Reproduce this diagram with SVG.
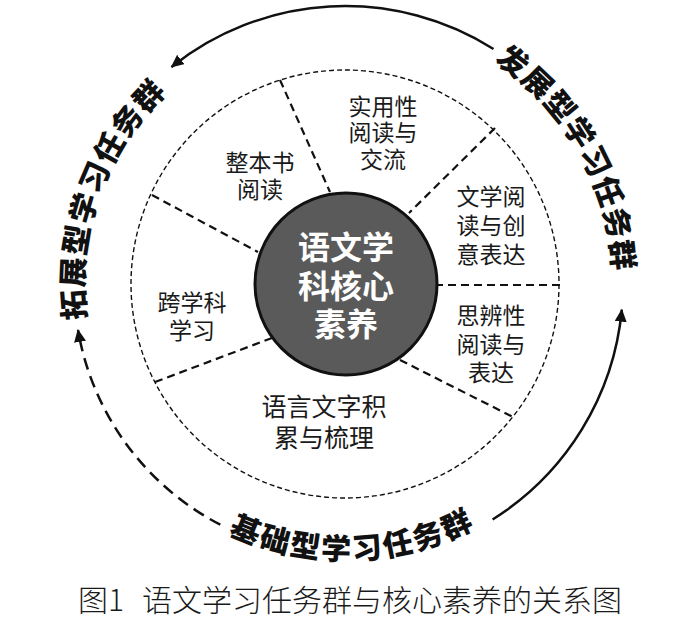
<svg xmlns="http://www.w3.org/2000/svg" width="700" height="619" viewBox="0 0 700 619">
  <style>
    .lbl { font-family: "Noto Sans CJK SC", "Noto Sans", sans-serif; font-size: 23px; fill: #1a1a1a; text-anchor: middle; }
    .big { font-family: "Noto Sans CJK SC", "Noto Sans", sans-serif; font-size: 30px; font-weight: 900; fill: #111; text-anchor: middle; }
    .core { font-family: "Noto Sans CJK SC", "Noto Sans", sans-serif; font-size: 32px; font-weight: bold; fill: #ffffff; text-anchor: middle; }
    .cap { font-family: "Noto Sans CJK SC", "Noto Sans", sans-serif; font-size: 30px; font-weight: 300; fill: #1a1a1a; }
    .div { stroke: #111; stroke-width: 2.2; stroke-dasharray: 8 5; fill: none; }
    .arc { stroke: #111; stroke-width: 2.5; fill: none; }
  </style>
  <defs>
    <marker id="ah" markerUnits="userSpaceOnUse" markerWidth="14" markerHeight="12" refX="12" refY="6" orient="auto">
      <path d="M0,0 L13,6 L0,12 z" fill="#111"/>
    </marker>
  </defs>
  <rect width="700" height="619" fill="#ffffff"/>

  <g id="connectors">
    <path class="arc" d="M493.5,49 A278,278 0 0 0 171.5,67" marker-end="url(#ah)"/>
    <path class="arc" d="M492.6,519.5 A278,278 0 0 0 621.8,309.7" marker-end="url(#ah)"/>
    <path class="arc" d="M220.3,524.7 A271,271 0 0 1 78,330" stroke-dasharray="12 7" marker-end="url(#ah)"/>
  </g>

  <g id="ring">
    <circle cx="345" cy="284" r="214" fill="none" stroke="#111" stroke-width="1.4" stroke-dasharray="5 3"/>
    <line class="div" x1="280" y1="80" x2="330" y2="192"/>
    <line class="div" x1="152" y1="195" x2="258" y2="252"/>
    <line class="div" x1="495" y1="128" x2="409" y2="213"/>
    <line class="div" x1="435" y1="285" x2="560" y2="285"/>
    <line class="div" x1="400" y1="360" x2="513" y2="417"/>
    <line class="div" x1="155" y1="382" x2="272" y2="338"/>
  </g>

  <g id="core">
    <circle cx="346" cy="284" r="91" fill="#5a5a5a" stroke="#111" stroke-width="3"/>
    <text class="core"><tspan x="346" y="259">语文学</tspan><tspan x="346" y="298">科核心</tspan><tspan x="346" y="336">素养</tspan></text>
  </g>

  <g id="seg-zhengben">
    <text class="lbl"><tspan x="260" y="171">整本书</tspan><tspan x="260" y="198">阅读</tspan></text>
  </g>
  <g id="seg-shiyong">
    <text class="lbl"><tspan x="383" y="115">实用性</tspan><tspan x="383" y="141">阅读与</tspan><tspan x="383" y="168">交流</tspan></text>
  </g>
  <g id="seg-wenxue">
    <text class="lbl"><tspan x="491" y="205">文学阅</tspan><tspan x="491" y="234">读与创</tspan><tspan x="491" y="263">意表达</tspan></text>
  </g>
  <g id="seg-sibian">
    <text class="lbl"><tspan x="491" y="324">思辨性</tspan><tspan x="491" y="353">阅读与</tspan><tspan x="491" y="381">表达</tspan></text>
  </g>
  <g id="seg-yuyan">
    <text class="lbl" style="font-size:25px"><tspan x="324" y="416">语言文字积</tspan><tspan x="324" y="447">累与梳理</tspan></text>
  </g>
  <g id="seg-kuaxueke">
    <text class="lbl"><tspan x="192" y="311">跨学科</tspan><tspan x="192" y="339">学习</tspan></text>
  </g>

  <g id="group-fazhan">
    <text class="big" y="11" transform="translate(512.9,61.2) rotate(37)">发</text>
    <text class="big" y="11" transform="translate(537.8,82.3) rotate(43.71)">展</text>
    <text class="big" y="11" transform="translate(560.1,106.3) rotate(50.43)">型</text>
    <text class="big" y="11" transform="translate(579.4,132.6) rotate(57.14)">学</text>
    <text class="big" y="11" transform="translate(595.5,161.1) rotate(63.86)">习</text>
    <text class="big" y="11" transform="translate(608.1,191.2) rotate(70.57)">任</text>
    <text class="big" y="11" transform="translate(617.2,222.6) rotate(77.29)">务</text>
    <text class="big" y="11" transform="translate(622.5,254.8) rotate(84)">群</text>
  </g>
  <g id="group-tuozhan">
    <text class="big" y="11" transform="translate(73.8,304.9) rotate(-94.4)">拓</text>
    <text class="big" y="11" transform="translate(73.2,272.3) rotate(-87.53)">展</text>
    <text class="big" y="11" transform="translate(76.6,239.9) rotate(-80.66)">型</text>
    <text class="big" y="11" transform="translate(83.8,208.1) rotate(-73.79)">学</text>
    <text class="big" y="11" transform="translate(94.8,177.4) rotate(-66.91)">习</text>
    <text class="big" y="11" transform="translate(109.3,148.2) rotate(-60.04)">任</text>
    <text class="big" y="11" transform="translate(127.2,121.0) rotate(-53.17)">务</text>
    <text class="big" y="11" transform="translate(148.3,96.1) rotate(-46.3)">群</text>
  </g>
  <g id="group-jichu">
    <text class="big" y="11" transform="translate(245.7,529.7) rotate(22)">基</text>
    <text class="big" y="11" transform="translate(275.0,539.6) rotate(15.31)">础</text>
    <text class="big" y="11" transform="translate(305.2,546.0) rotate(8.63)">型</text>
    <text class="big" y="11" transform="translate(336.0,548.8) rotate(1.94)">学</text>
    <text class="big" y="11" transform="translate(366.9,548.1) rotate(-4.74)">习</text>
    <text class="big" y="11" transform="translate(397.5,543.8) rotate(-11.43)">任</text>
    <text class="big" y="11" transform="translate(427.4,535.9) rotate(-18.11)">务</text>
    <text class="big" y="11" transform="translate(456.2,524.6) rotate(-24.8)">群</text>
  </g>

  <g id="caption">
    <text class="cap" y="611"><tspan x="78">图1</tspan><tspan x="142">语文学习任务群与核心素养的关系图</tspan></text>
  </g>
</svg>
